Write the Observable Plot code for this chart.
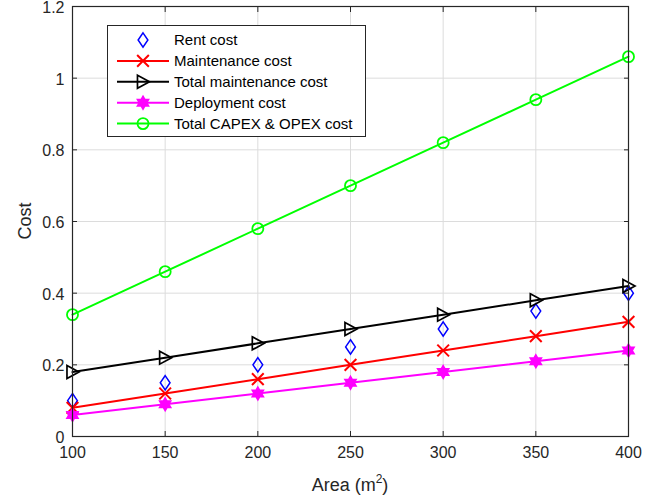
<!DOCTYPE html>
<html>
<head>
<meta charset="utf-8">
<script src="https://cdn.jsdelivr.net/npm/d3@7"></script>
<script src="https://cdn.jsdelivr.net/npm/@observablehq/plot@0.6"></script>
<style>
  body { margin: 0; background: #fff; }
  svg { font-family: "Liberation Sans", Arial, sans-serif; }
</style>
</head>
<body>
<div id="chart"></div>
<script>
const areas = [100, 150, 200, 250, 300, 350, 400];
const rentCost = [0.10, 0.15, 0.20, 0.25, 0.30, 0.35, 0.40];
const maintenanceCost = [0.08, 0.12, 0.16, 0.20, 0.24, 0.28, 0.32];
const totalMaintenanceCost = [0.18, 0.22, 0.26, 0.30, 0.34, 0.38, 0.42];
const deploymentCost = [0.06, 0.09, 0.12, 0.15, 0.18, 0.21, 0.24];
const totalCost = [0.34, 0.46, 0.58, 0.70, 0.82, 0.94, 1.06];
const xTicks = [100, 150, 200, 250, 300, 350, 400];
const yTicks = [0, 0.2, 0.4, 0.6, 0.8, 1.0, 1.2];
const seriesNames = ["Rent cost", "Maintenance cost", "Total maintenance cost", "Deployment cost", "Total CAPEX & OPEX cost"];

// custom MATLAB-like marker symbols (size = pi r^2)
const rad = s => Math.sqrt(s / Math.PI);
const symDiamond = { draw(c, s) { const r = rad(s); c.moveTo(0, -r * 1.1); c.lineTo(r * 0.75, 0); c.lineTo(0, r * 1.1); c.lineTo(-r * 0.75, 0); c.closePath(); } };
const symTimes = { draw(c, s) { const r = rad(s) * 0.9; c.moveTo(-r, -r); c.lineTo(r, r); c.moveTo(r, -r); c.lineTo(-r, r); } };
const symRight = { draw(c, s) { const r = rad(s); c.moveTo(-r * 0.85, -r); c.lineTo(r * 1.0, 0); c.lineTo(-r * 0.85, r); c.closePath(); } };
const symHexagram = { draw(c, s) { const r = rad(s);
  for (const off of [-Math.PI / 2, Math.PI / 2]) {
    for (let i = 0; i < 3; i++) { const a = off + i * 2 * Math.PI / 3; const x = r * Math.cos(a), y = r * Math.sin(a); i ? c.lineTo(x, y) : c.moveTo(x, y); }
    c.closePath();
  } } };
const symCircle = { draw(c, s) { const r = rad(s) * 0.85; c.moveTo(r, 0); c.arc(0, 0, r, 0, 2 * Math.PI); } };

const series = [
  { name: seriesNames[0], values: rentCost, color: "#0000ff", symbol: symDiamond, line: false, fill: "none", sw: 1.5 },
  { name: seriesNames[1], values: maintenanceCost, color: "#ff0000", symbol: symTimes, line: true, fill: "none", sw: 2 },
  { name: seriesNames[2], values: totalMaintenanceCost, color: "#000000", symbol: symRight, line: true, fill: "none", sw: 1.7 },
  { name: seriesNames[3], values: deploymentCost, color: "#ff00ff", symbol: symHexagram, line: true, fill: "#ff00ff", sw: 1.5 },
  { name: seriesNames[4], values: totalCost, color: "#00ff00", symbol: symCircle, line: true, fill: "none", sw: 1.8 }
];

const marks = [
  Plot.gridX(xTicks, { stroke: "#dcdcdc", strokeOpacity: 1, strokeWidth: 1 }),
  Plot.gridY(yTicks, { stroke: "#dcdcdc", strokeOpacity: 1, strokeWidth: 1 }),
];
for (const s of series) {
  const data = areas.map((a, i) => ({ a, v: s.values[i] }));
  if (s.line) marks.push(Plot.line(data, { x: "a", y: "v", stroke: s.color, strokeWidth: 2 }));
  marks.push(Plot.dot(data, { x: "a", y: "v", stroke: s.color, fill: s.fill, symbol: s.symbol, r: 6.5, strokeWidth: s.sw }));
}
marks.push(
  Plot.frame({ stroke: "#262626", strokeWidth: 1.2 }),
  Plot.axisX(xTicks, { anchor: "bottom", tickSize: 0, tickPadding: 10, fontSize: 16, fill: "#262626", label: null, tickFormat: d => d }),
  Plot.axisX(xTicks, { anchor: "bottom", tickSize: -5, text: null, stroke: "#262626", label: null }),
  Plot.axisX(xTicks, { anchor: "top", tickSize: -5, text: null, stroke: "#262626", label: null }),
  Plot.axisY(yTicks, { anchor: "left", tickSize: 0, tickPadding: 8, fontSize: 16, dy: 1.5, fill: "#262626", label: null, tickFormat: d => d3.format("~g")(d) }),
  Plot.axisY(yTicks, { anchor: "left", tickSize: -5, text: null, stroke: "#262626", label: null }),
  Plot.axisY(yTicks, { anchor: "right", tickSize: -5, text: null, stroke: "#262626", label: null })
);

const chart = Plot.plot({
  width: 667,
  height: 499,
  marginLeft: 72,
  marginRight: 39,
  marginTop: 6,
  marginBottom: 63,
  style: { fontFamily: "Liberation Sans, Arial, sans-serif", background: "#fff" },
  x: { domain: [100, 400] },
  y: { domain: [0, 1.2] },
  marks
});
document.getElementById("chart").appendChild(chart);

const svg = d3.select(chart);
// axis titles
const xl = svg.append("text").attr("x", 350).attr("y", 491).attr("text-anchor", "middle")
  .attr("font-size", 18).attr("fill", "#262626");
xl.append("tspan").text("Area (m");
xl.append("tspan").text("2").attr("font-size", 12).attr("dy", -8);
xl.append("tspan").text(")").attr("dy", 8);
svg.append("text").attr("transform", "translate(31,221) rotate(-90)").attr("text-anchor", "middle")
  .attr("font-size", 18).attr("fill", "#262626").text("Cost");

// legend
const lg = svg.append("g").attr("text-anchor", "start");
lg.append("rect").attr("x", 107.5).attr("y", 25.5).attr("width", 258).attr("height", 111)
  .attr("fill", "#fff").attr("stroke", "#262626").attr("stroke-width", 1);
series.forEach((s, i) => {
  const y = 40 + i * 20.9;
  if (s.line) lg.append("line").attr("x1", 117).attr("x2", 169).attr("y1", y).attr("y2", y)
    .attr("stroke", s.color).attr("stroke-width", 2);
  lg.append("path").attr("transform", `translate(143,${y})`)
    .attr("d", d3.symbol(s.symbol, Math.PI * 6.5 * 6.5)())
    .attr("stroke", s.color).attr("fill", s.fill).attr("stroke-width", s.sw);
  lg.append("text").attr("x", 174).attr("y", y).attr("dy", "0.35em").attr("font-size", 15)
    .attr("text-anchor", "start").attr("fill", "#000").text(s.name);
});
</script>
</body>
</html>
